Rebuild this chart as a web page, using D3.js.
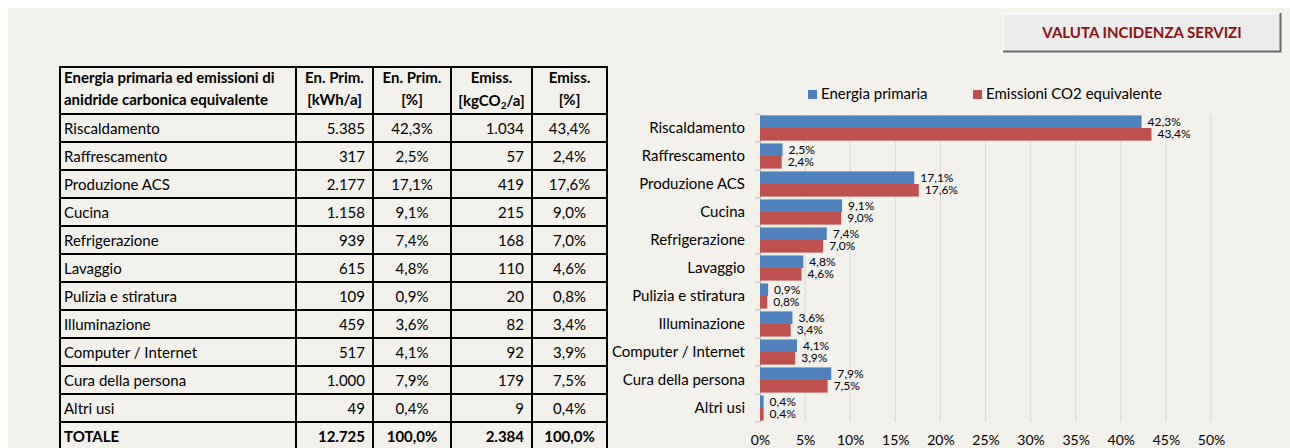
<!DOCTYPE html>
<html>
<head>
<meta charset="utf-8">
<script src="https://cdn.jsdelivr.net/npm/d3@7"></script>
<style>
  html, body { margin: 0; padding: 0; background: #fff; }
  svg { display: block; font-family: Lato, 'Open Sans', sans-serif; }
</style>
</head>
<body>
<div id="chart"></div>
<script>
const WIDTH = 1290
const HEIGHT = 448

const categories = ['Riscaldamento', 'Raffrescamento', 'Produzione ACS', 'Cucina', 'Refrigerazione',
  'Lavaggio', 'Pulizia e stiratura', 'Illuminazione', 'Computer / Internet', 'Cura della persona', 'Altri usi']
const enPrim = [5385, 317, 2177, 1158, 939, 615, 109, 459, 517, 1000, 49]
const enPrimPct = [42.3, 2.5, 17.1, 9.1, 7.4, 4.8, 0.9, 3.6, 4.1, 7.9, 0.4]
const emiss = [1034, 57, 419, 215, 168, 110, 20, 82, 92, 179, 9]
const emissPct = [43.4, 2.4, 17.6, 9.0, 7.0, 4.6, 0.8, 3.4, 3.9, 7.5, 0.4]
const totals = { label: 'TOTALE', enPrim: 12725, enPrimPct: 100, emiss: 2384, emissPct: 100 }
const xTicks = [0, 5, 10, 15, 20, 25, 30, 35, 40, 45, 50]
const seriesNames = ['Energia primaria', 'Emissioni CO2 equivalente']
const seriesColors = ['#4f81bd', '#c0504d']

const it = d3.formatLocale({ decimal: ',', thousands: '.', grouping: [3], currency: ['€', ''] })
const fmtInt = it.format(',d')
const fmtPct = v => it.format('.1f')(v) + '%'

const svg = d3.select('#chart')
  .append('svg')
    .attr('width', WIDTH)
    .attr('height', HEIGHT)

svg.append('rect').attr('width', WIDTH).attr('height', HEIGHT).attr('fill', '#ffffff')
svg.append('rect').attr('x', 8).attr('y', 8).attr('width', WIDTH - 8).attr('height', HEIGHT - 8).attr('fill', '#f2f1ec')

// button
const btn = svg.append('g')
btn.append('rect').attr('x', 1003).attr('y', 13).attr('width', 278).attr('height', 39).attr('fill', '#ececec')
btn.append('path').attr('d', 'M1003.5,52 V13.5 H1281').attr('stroke', '#ffffff').attr('fill', 'none')
btn.append('path').attr('d', 'M1003,51.5 H1280.5 V13').attr('stroke', '#6b6b6b').attr('stroke-width', 2).attr('fill', 'none')
btn.append('text')
  .attr('x', 1142).attr('y', 38)
  .attr('text-anchor', 'middle')
  .attr('font-size', 15).attr('font-weight', 'bold')
  .attr('fill', '#8b1113')
  .text('VALUTA INCIDENZA SERVIZI')

// table
const colX = [60, 296, 373, 451, 532, 607]
const HEADER_TOP = 67
const ROW_TOP = 114
const ROW_H = 28
const tbl = svg.append('g').attr('font-size', 15).attr('fill', '#000')

const rows = categories.map((c, i) => ({
  label: c, enPrim: enPrim[i], enPrimPct: enPrimPct[i], emiss: emiss[i], emissPct: emissPct[i], bold: false
}))
rows.push({ ...totals, bold: true })

const nRows = rows.length
const tableBottom = ROW_TOP + nRows * ROW_H

// header texts
const hdr = tbl.append('g').attr('font-weight', 'bold')
hdr.append('text').attr('x', 64).attr('y', 83).text('Energia primaria ed emissioni di')
hdr.append('text').attr('x', 64).attr('y', 105).text('anidride carbonica equivalente')
const headCols = [['En. Prim.', '[kWh/a]'], ['En. Prim.', '[%]'], ['Emiss.', null], ['Emiss.', '[%]']]
headCols.forEach((h, i) => {
  const cx = (colX[i + 1] + colX[i + 2]) / 2
  hdr.append('text').attr('x', cx).attr('y', 83).attr('text-anchor', 'middle').text(h[0])
  if (h[1]) {
    hdr.append('text').attr('x', cx).attr('y', 105).attr('text-anchor', 'middle').text(h[1])
  } else {
    const t = hdr.append('text').attr('x', cx).attr('y', 106).attr('text-anchor', 'middle')
    t.append('tspan').text('[kgCO')
    t.append('tspan').attr('font-size', 10).attr('dy', 3).text('2')
    t.append('tspan').attr('dy', -3).text('/a]')
  }
})

const rowG = tbl.selectAll('g.row')
  .data(rows)
  .join('g')
    .attr('class', 'row')
    .attr('transform', (d, i) => `translate(0, ${ROW_TOP + i * ROW_H})`)
    .attr('font-weight', d => d.bold ? 'bold' : 'normal')

rowG.append('text').attr('x', 64).attr('y', 20).text(d => d.label)
rowG.append('text').attr('x', colX[2] - 8).attr('y', 20).attr('text-anchor', 'end').text(d => fmtInt(d.enPrim))
rowG.append('text').attr('x', (colX[2] + colX[3]) / 2).attr('y', 20).attr('text-anchor', 'middle').text(d => fmtPct(d.enPrimPct))
rowG.append('text').attr('x', colX[4] - 8).attr('y', 20).attr('text-anchor', 'end').text(d => fmtInt(d.emiss))
rowG.append('text').attr('x', (colX[4] + colX[5]) / 2).attr('y', 20).attr('text-anchor', 'middle').text(d => fmtPct(d.emissPct))

// table lines
const lines = tbl.append('g').attr('stroke', '#000').attr('stroke-width', 2)
colX.forEach(x => {
  lines.append('line').attr('x1', x).attr('x2', x).attr('y1', HEADER_TOP).attr('y2', tableBottom)
})
const hLines = [HEADER_TOP].concat(d3.range(nRows + 1).map(i => ROW_TOP + i * ROW_H))
hLines.forEach(y => {
  lines.append('line').attr('x1', colX[0] - 1).attr('x2', colX[5] + 1).attr('y1', y).attr('y2', y)
})

// bar chart
const PLOT_TOP = 114
const PLOT_BOTTOM = 422
const x = d3.scaleLinear().domain([0, 50]).range([760, 1211])
const y = d3.scaleBand().domain(categories).range([PLOT_TOP, PLOT_BOTTOM]).paddingInner(0.1).paddingOuter(0.05)
const ySub = d3.scaleBand().domain([0, 1]).range([0, y.bandwidth()])

const chart = svg.append('g')

chart.append('g')
  .selectAll('line')
  .data(xTicks.slice(1))
  .join('line')
    .attr('x1', d => x(d)).attr('x2', d => x(d))
    .attr('y1', PLOT_TOP).attr('y2', PLOT_BOTTOM)
    .attr('stroke', '#d9d9d9')

const xAxis = chart.append('g')
  .attr('transform', `translate(0, ${PLOT_BOTTOM})`)
  .call(d3.axisBottom(x).tickValues(xTicks).tickSize(0).tickPadding(13).tickFormat(d => d + '%'))
xAxis.select('.domain').remove()
xAxis.selectAll('text').attr('font-size', 14).attr('font-family', 'Lato, sans-serif').attr('fill', '#000')

const yAxis = chart.append('g')
  .attr('transform', `translate(760, 0)`)
  .call(d3.axisLeft(y).tickSize(0).tickPadding(15))
yAxis.select('.domain').attr('stroke', '#bfbfbf')
yAxis.selectAll('text').attr('font-size', 15).attr('font-family', 'Lato, sans-serif').attr('fill', '#000')

// small ticks between categories
chart.append('g')
  .selectAll('line')
  .data(d3.range(categories.length + 1))
  .join('line')
    .attr('x1', 755).attr('x2', 760)
    .attr('y1', i => PLOT_TOP + i * y.step()).attr('y2', i => PLOT_TOP + i * y.step())
    .attr('stroke', '#bfbfbf')

const seriesVals = [enPrimPct, emissPct]
seriesVals.forEach((vals, s) => {
  const g = chart.append('g')
  g.selectAll('rect')
    .data(categories)
    .join('rect')
      .attr('x', x(0))
      .attr('y', d => y(d) + ySub(s))
      .attr('width', (d, i) => x(vals[i]) - x(0))
      .attr('height', ySub.bandwidth())
      .attr('fill', seriesColors[s])
  g.selectAll('text')
    .data(categories)
    .join('text')
      .attr('x', (d, i) => x(vals[i]) + 6)
      .attr('y', d => y(d) + ySub(s) + ySub.bandwidth() / 2 + 4)
      .attr('font-size', 12)
      .attr('fill', '#000')
      .text((d, i) => fmtPct(vals[i]))
})

// legend
const legendX = [808, 973]
seriesNames.forEach((name, s) => {
  const lg = chart.append('g').attr('transform', `translate(${legendX[s]}, 94)`)
  lg.append('rect').attr('x', 0).attr('y', -4).attr('width', 9).attr('height', 9).attr('fill', seriesColors[s])
  lg.append('text').attr('x', 13).attr('y', 5).attr('font-size', 15).text(name)
})
</script>
</body>
</html>
